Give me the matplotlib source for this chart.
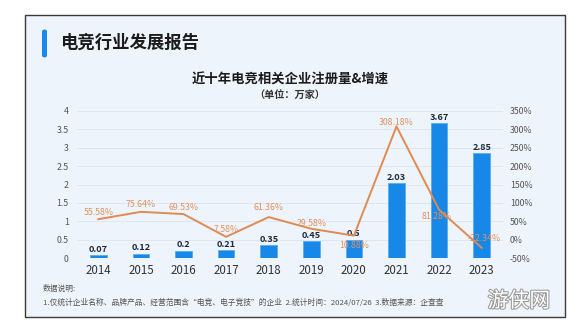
import matplotlib
matplotlib.use("Agg")
import matplotlib.pyplot as plt
from matplotlib.patches import Rectangle, FancyBboxPatch
import matplotlib.patheffects as pe

plt.rcParams['font.family'] = ['Noto Sans CJK SC', 'DejaVu Sans']

years = ["2014", "2015", "2016", "2017", "2018", "2019", "2020", "2021", "2022", "2023"]
counts = [0.07, 0.12, 0.2, 0.21, 0.35, 0.45, 0.5, 2.03, 3.67, 2.85]
growth = [55.58, 75.64, 69.53, 7.58, 61.36, 29.58, 10.88, 308.18, 81.28, -22.34]
growth_labels = ["55.58%", "75.64%", "69.53%", "7.58%", "61.36%", "29.58%",
                 "10.88%", "308.18%", "81.28%", "-22.34%"]
left_ticks = [0, 0.5, 1, 1.5, 2, 2.5, 3, 3.5, 4]
left_tick_labels = ["0", "0.5", "1", "1.5", "2", "2.5", "3", "3.5", "4"]
right_ticks = [-50, 0, 50, 100, 150, 200, 250, 300, 350]
right_tick_labels = ["-50%", "0%", "50%", "100%", "150%", "200%", "250%", "300%", "350%"]

W, H = 584, 328
fig = plt.figure(figsize=(W / 100, H / 100), dpi=100)
fig.patch.set_facecolor("white")

# card
card = Rectangle((25 / W, 1 - 317 / H), (565 - 25) / W, (317 - 15) / H,
                 transform=fig.transFigure, facecolor="#eef4fb",
                 edgecolor="#3a3a3a", linewidth=1.0, zorder=-2)
fig.patches.append(card)

# blue accent bar
accent = FancyBboxPatch((42 / W, 1 - 58 / H), 5 / W, 29 / H,
                        boxstyle="round,pad=0,rounding_size=0.008",
                        transform=fig.transFigure, facecolor="#1f86ee",
                        edgecolor="none", zorder=-1)
fig.patches.append(accent)

fig.text(60 / W, 1 - 43 / H, "电竞行业发展报告", fontsize=12.5, fontweight="bold",
         color="#1b1b1b", ha="left", va="center")
fig.text(290 / W, 1 - 79.5 / H, "近十年电竞相关企业注册量&增速", fontsize=9.6,
         fontweight="bold", color="#1b1b1b", ha="center", va="center")
fig.text(290 / W, 1 - 95 / H, "（单位：万家）", fontsize=7.3, fontweight="bold",
         color="#333333", ha="center", va="center")

ax = fig.add_axes([77 / W, 1 - 258 / H, (503 - 77) / W, (258 - 111) / H])
ax.set_facecolor("none")
x = list(range(len(years)))

ax.bar(x, counts, width=0.39, color="#1787e8", edgecolor="#5aaaf0",
       linewidth=0.6, zorder=2)
for xi, v in zip(x, counts):
    ax.annotate(f"{v:g}", (xi, v), xytext=(0, 1), textcoords="offset points",
                ha="center", va="bottom", fontsize=6.6, fontweight="bold",
                color="#1e2a3a", zorder=5)

ax.set_xlim(-0.5, len(years) - 0.5)
ax.set_ylim(0, 4)
ax.set_yticks(left_ticks)
ax.set_yticklabels(left_tick_labels)
ax.set_xticks(x)
ax.set_xticklabels(years)
ax.tick_params(axis="y", length=0, labelsize=6.3, labelcolor="#555555", pad=6)
ax.tick_params(axis="x", length=0, labelsize=8.3, labelcolor="#333333", pad=4)
ax.grid(axis="y", color="#dde6f1", linewidth=0.7, zorder=0)
ax.set_axisbelow(True)
for s in ax.spines.values():
    s.set_visible(False)

ax2 = ax.twinx()
ax2.set_ylim(-50, 350)
ax2.set_yticks(right_ticks)
ax2.set_yticklabels(right_tick_labels)
ax2.tick_params(axis="y", length=0, labelsize=6.3, labelcolor="#555555", pad=5)
for s in ax2.spines.values():
    s.set_visible(False)
ax2.plot(x, growth, color="#e08a52", linewidth=1.4, zorder=4)

offsets = [(0, 5), (0, 5.5), (0, 5), (0, 5.5), (0, 7), (0, 4), (0, -7),
           (0, 2.5), (-2, -4.5), (2, 7)]
for xi, v, lab, off in zip(x, growth, growth_labels, offsets):
    ax2.annotate(lab, (xi, v), xytext=off, textcoords="offset points",
                 ha="center", va="center", fontsize=6.3, color="#e0925e", zorder=6)

fig.text(43 / W, 1 - 289 / H, "数据说明:", fontsize=5.6, color="#555555",
         ha="left", va="center")
fig.text(43 / W, 1 - 303 / H,
         "1.仅统计企业名称、品牌产品、经营范围含“电竞、电子竞技”的企业  2.统计时间：2024/07/26  3.数据来源：企查查",
         fontsize=5.6, color="#555555", ha="left", va="center")

fig.text(519 / W, 1 - 301 / H, "游侠网", fontsize=15, color="white",
         ha="center", va="center",
         path_effects=[pe.withStroke(linewidth=1.5, foreground="#9a9a9a")])

fig.savefig("out.png", dpi=100)
